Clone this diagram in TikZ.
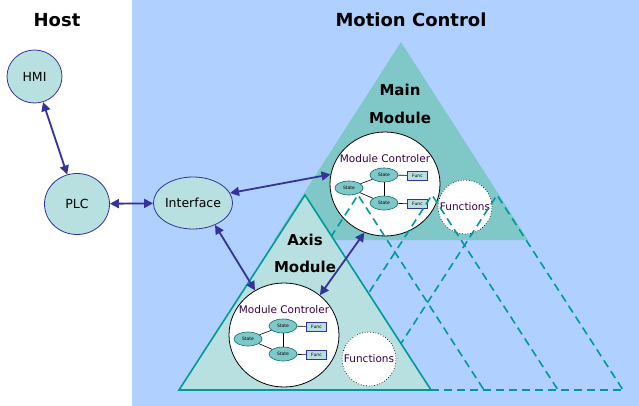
\documentclass[tikz,border=0pt]{standalone}
\usepackage{fontspec}
\setmainfont{DejaVu Sans}
\usetikzlibrary{shapes.geometric,arrows.meta}
\definecolor{bgblue}{RGB}{176,208,255}
\definecolor{mainfill}{RGB}{128,200,200}
\definecolor{lightfill}{RGB}{184,224,224}
\definecolor{tealline}{RGB}{0,153,153}
\definecolor{navy}{RGB}{51,51,153}
\definecolor{purp}{RGB}{55,0,65}
\tikzset{ctrlin/.pic={
  \node[font=\fontsize{10.5}{12}\selectfont,text=purp] at (0,-25) {Module Controler};
  \node[statenode] (-l) at (-36,4) {State};
  \node[statenode] (-t) at (-1,-9) {State};
  \node[statenode] (-b) at (-1,19) {State};
  \node[funcbox] (-ft) at (32.5,-8.5) {Func};
  \node[funcbox] (-fb) at (32.5,20) {Func};
  \draw[line width=0.6pt] (-l) -- (-t);
  \draw[line width=0.6pt] (-l) -- (-b);
  \draw[line width=0.6pt] (-t) -- (-b);
  \draw[line width=0.6pt] (-t) -- (-ft);
  \draw[line width=0.6pt] (-b) -- (-fb);
}}
\begin{document}
\begin{tikzpicture}[x=1pt,y=-1pt,
  hostnode/.style={ellipse,draw=navy,fill=lightfill,line width=0.8pt,inner sep=0pt,font=\fontsize{12.5}{14}\selectfont},
  dbl/.style={draw=navy,line width=1.8pt,{Triangle[length=9pt,width=9pt]}-{Triangle[length=9pt,width=9pt]}},
  ctlcircle/.style={ellipse,draw=black,fill=white,line width=0.8pt,minimum width=110pt,minimum height=104pt,inner sep=0pt},
  funccircle/.style={circle,draw=black,dotted,line width=0.7pt,fill=white,minimum size=54pt,inner sep=0pt,font=\fontsize{10.5}{12}\selectfont,text=purp},
  statenode/.style={ellipse,draw=tealline!70!black,fill=mainfill,minimum width=28pt,minimum height=14pt,inner sep=0pt,line width=0.6pt,font=\fontsize{4.5}{5}\selectfont},
  funcbox/.style={rectangle,draw=navy,fill=lightfill,minimum width=20pt,minimum height=9pt,inner sep=0pt,line width=0.8pt,font=\fontsize{4.5}{5}\selectfont},
  titletext/.style={font=\bfseries\fontsize{18}{20}\selectfont},
  modtitle/.style={font=\bfseries\fontsize{15}{17}\selectfont},
  dashtri/.style={draw=tealline,line width=1.6pt,dash pattern=on 8pt off 5pt},
]
\fill[white] (0,0) rectangle (639,406);
\fill[bgblue] (132,0) rectangle (639,406);
\useasboundingbox (0,0) rectangle (639,406);
% main module
\fill[mainfill] (401,42) -- (528,240) -- (274,240) -- cycle;
\node[modtitle] (mt1) at (400,90) {Main};
\node[modtitle] (mt2) at (400,118) {Module};
\node[ctlcircle] (mctl) at (385,184) {};
\pic (m) at (385,184) {ctrlin};
\node[funccircle] (mfun) at (465,207) {Functions};
% dashed copies
\draw[dashtri] (232,390) -- (358,195) -- (484,390);
\draw[dashtri] (306,390) -- (432,195) -- (558,390);
\draw[dashtri] (371,390) -- (497,195) -- (623,390);
\draw[dashtri] (431,390) -- (623,390);
% axis module
\filldraw[fill=lightfill,draw=tealline,line width=1.6pt] (305,195) -- (431,390) -- (179,390) -- cycle;
\node[modtitle] (at1) at (305,240) {Axis};
\node[modtitle] (at2) at (305,267) {Module};
\node[ctlcircle] (actl) at (284,335) {};
\pic (a) at (284,335) {ctrlin};
\node[funccircle] (afun) at (369,359) {Functions};
% host
\node[hostnode,minimum width=55pt,minimum height=53pt] (hmi) at (34.5,76.5) {HMI};
\node[hostnode,minimum width=65pt,minimum height=61pt] (plc) at (77,204) {PLC};
\node[hostnode,minimum width=78pt,minimum height=52pt] (intf) at (193,203) {Interface};
% titles
\node[titletext] (host) at (57,20) {Host};
\node[titletext] (mc) at (411,20) {Motion Control};
% arrows
\draw[dbl] (hmi) -- (plc);
\draw[dbl] (plc) -- (intf);
\draw[dbl] (intf.15) -- (mctl.170);
\draw[dbl] (intf.-45) -- (actl.123);
\draw[dbl] (actl.48) -- (mctl.-113);
\end{tikzpicture}
\end{document}
